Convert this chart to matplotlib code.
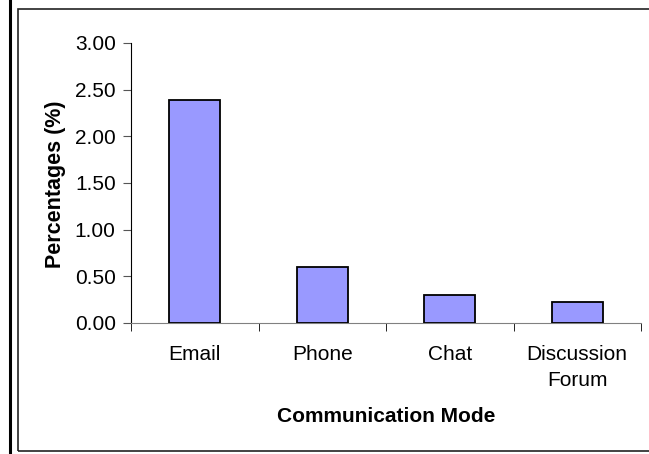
import matplotlib.pyplot as plt
from matplotlib.patches import Rectangle
from matplotlib.lines import Line2D

# data
modes = ["Email", "Phone", "Chat", "Discussion\nForum"]
percentages = [2.39, 0.60, 0.30, 0.22]
y_ticks = [0.0, 0.5, 1.0, 1.5, 2.0, 2.5, 3.0]

plt.rcParams["font.family"] = ["Liberation Sans", "DejaVu Sans"]

fig = plt.figure(figsize=(6.49, 4.54), dpi=100)
W, H = 649, 454

# outer frame and the thick rule on the left
fig.add_artist(Rectangle((18 / W, 1 - 451 / H), (660 - 18) / W, (451 - 9) / H,
                         transform=fig.transFigure, fill=False,
                         edgecolor="#222222", linewidth=1.2))
fig.add_artist(Line2D([10 / W, 10 / W], [0, 1], transform=fig.transFigure,
                      color="black", linewidth=2.2))

ax = fig.add_axes([131 / W, 1 - 323 / H, (641 - 131) / W, (323 - 43) / H])
x = range(len(modes))
ax.bar(x, percentages, width=0.4, color="#9999FF", edgecolor="black",
       linewidth=1.3, zorder=3)

ax.set_xlim(-0.5, len(modes) - 0.5)
ax.set_ylim(0, 3.0)
ax.set_yticks(y_ticks)
ax.set_yticklabels([f"{v:.2f}" for v in y_ticks], fontsize=15)
ax.set_xticks(list(x))
ax.set_xticklabels(modes, fontsize=15, linespacing=1.45)
ax.set_xticks([i - 0.5 for i in range(len(modes) + 1)], minor=True)
ax.tick_params(axis="x", which="major", length=0, pad=16)
ax.tick_params(axis="x", which="minor", length=6, direction="out", color="black")
ax.tick_params(axis="y", length=6, direction="out", color="#555555", pad=5)

for side in ["top", "right"]:
    ax.spines[side].set_visible(False)
ax.spines["bottom"].set_color("#808080")
ax.spines["left"].set_color("black")

fig.text(55 / W, 1 - 184 / H, "Percentages (%)", fontsize=15.5,
         fontweight="bold", rotation=90, ha="center", va="center")
fig.text(386 / W, 1 - 417 / H, "Communication Mode", fontsize=15,
         fontweight="bold", ha="center", va="center")

fig.savefig("out.png", dpi=100)
